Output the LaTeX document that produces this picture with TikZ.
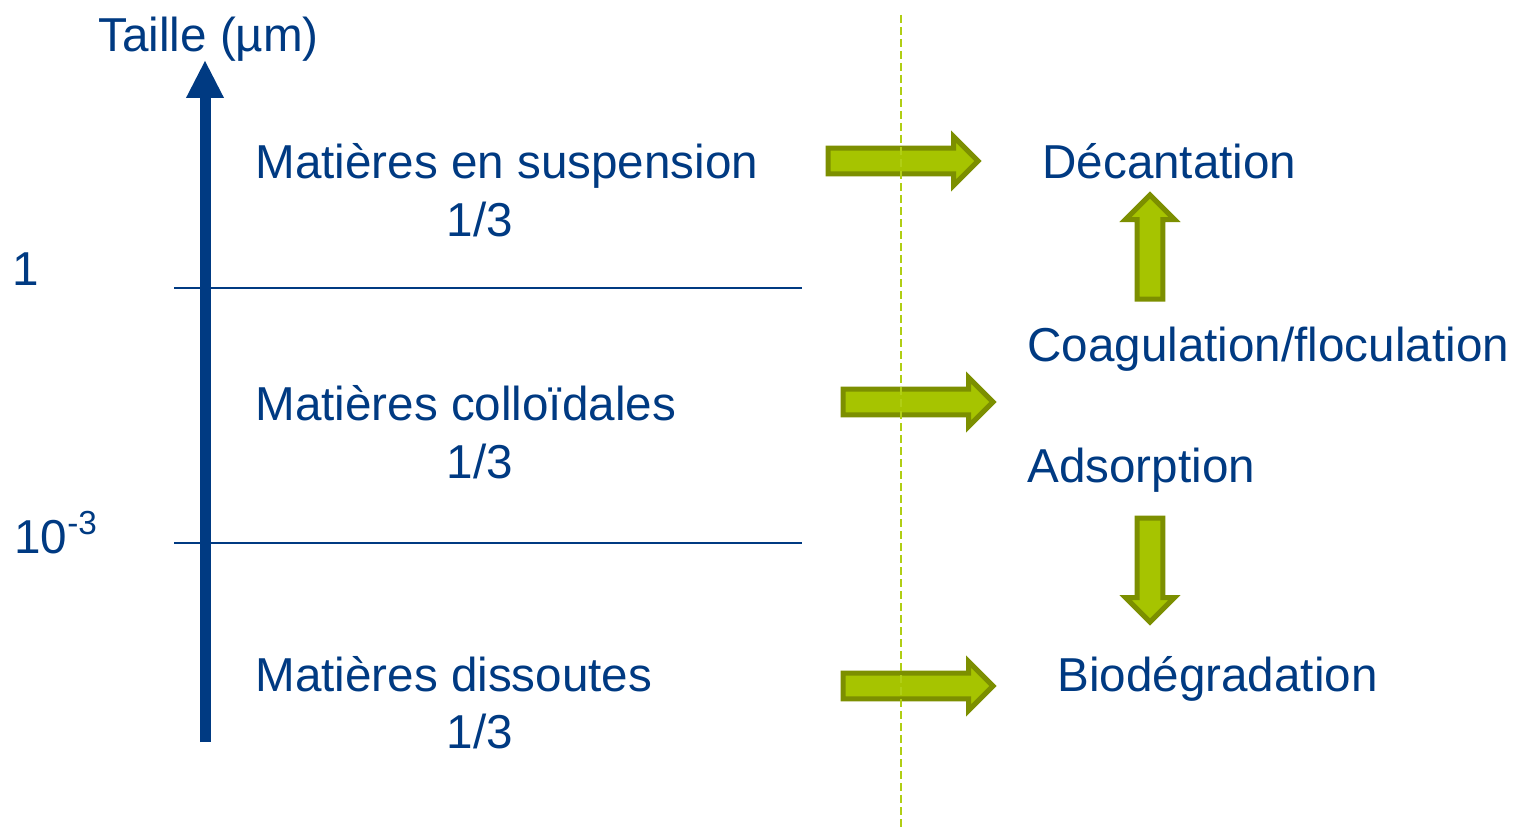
\documentclass[tikz,border=0pt]{standalone}
\usepackage{fontspec}
\setmainfont{Liberation Sans}
\usetikzlibrary{arrows.meta,shapes.arrows}
\definecolor{navy}{RGB}{0,58,130}
\definecolor{leaf}{RGB}{166,196,0}
\definecolor{olive}{RGB}{124,143,0}
\definecolor{guide}{RGB}{176,206,20}

\begin{document}
\begin{tikzpicture}[x=0.5pt,y=-0.5pt,
  every node/.style={text=navy,font=\fontsize{23.8}{28}\selectfont,inner sep=0pt},
  blk/.style={single arrow,draw=olive,fill=leaf,line width=2.5pt,line join=miter,
    inner sep=5.2pt,single arrow head extend=5.8pt,minimum height=75pt,anchor=tail}]
  \useasboundingbox (0,0) rectangle (1515,829);

  % size axis
  \coordinate (axbot) at (205,742);
  \coordinate (axtop) at (205,60);
  \draw[navy,line width=5.5pt,-{Triangle[width=17.5pt,length=19pt]}] (axbot) -- (axtop);
  \node [anchor=base west] (T) at (98,52) {Taille (µm)};
  \node [anchor=base west] (S1) at (12,285) {1};
  \node [anchor=base west] (S2) at (14,553) {10\textsuperscript{-3}};

  \coordinate (L1a) at (174,288);
  \coordinate (L1b) at (802,288);
  \coordinate (L2a) at (174,543);
  \coordinate (L2b) at (802,543);
  \draw[navy,line width=1pt] (L1a) -- (L1b);
  \draw[navy,line width=1pt] (L2a) -- (L2b);

  \node [anchor=base west] (MES) at (255,178) {Matières en suspension};
  \node [anchor=base] (MESf) at (480,236) {1/3};
  \node [anchor=base west] (MC) at (255,420) {Matières colloïdales};
  \node [anchor=base] (MCf) at (480,478) {1/3};
  \node [anchor=base west] (MD) at (255,691) {Matières dissoutes};
  \node [anchor=base] (MDf) at (480,748) {1/3};

  % treatments
  \node [anchor=base west] (Dec) at (1042,178) {Décantation};
  \node [anchor=base west] (Coag) at (1027,361) {Coagulation/floculation};
  \node [anchor=base west] (Ads) at (1027,482) {Adsorption};
  \node [anchor=base west] (Bio) at (1057,691) {Biodégradation};

  \node [blk] (A1) at (825.5,161) {};
  \node [blk] (A2) at (840.5,402) {};
  \node [blk] (A3) at (840.5,686) {};
  \node [blk,rotate=90,minimum height=52pt] (Up) at (1150,301.5) {};
  \node [blk,rotate=-90,minimum height=52pt] (Down) at (1150,515.5) {};

  \coordinate (Gtop) at (901,15);
  \coordinate (Gbot) at (901,829);
  \draw[guide,line width=1pt,dash pattern=on 4pt off 2pt] (Gtop) -- (Gbot);
\end{tikzpicture}
\end{document}
